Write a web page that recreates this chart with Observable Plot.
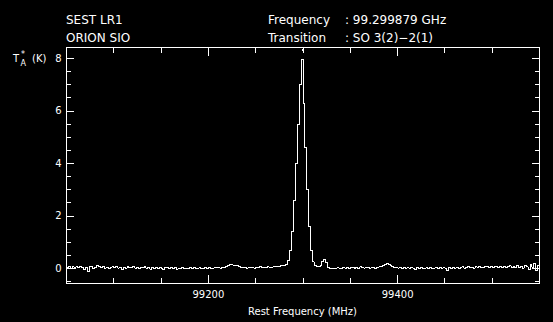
<!DOCTYPE html>
<html>
<head>
<meta charset="utf-8">
<script src="https://cdn.jsdelivr.net/npm/d3@7"></script>
<script src="https://cdn.jsdelivr.net/npm/@observablehq/plot@0.6"></script>
<style>
  html, body { margin: 0; padding: 0; background: #000; }
  #wrap { width: 553px; height: 322px; background: #000; overflow: hidden; }
</style>
</head>
<body>
<div id="wrap"></div>
<script>
// ---- Data ----
const channelStart = 99050;   // MHz, left edge of first channel
const channelWidth = 2;       // MHz
const temps = [
  0.05, 0.08, 0.02, 0.07, 0.00, 0.06, 0.03, 0.09, 0.05, -0.02,
  0.04, -0.12, 0.06, 0.08, 0.00, 0.05, 0.10, 0.06, 0.03, 0.07,
  0.02, 0.05, 0.00, 0.03, 0.06, 0.04, 0.08, 0.02, 0.05, -0.03,
  0.04, 0.01, 0.06, 0.03, 0.05, 0.09, 0.02, 0.04, 0.00, 0.05,
  0.03, 0.06, 0.02, 0.05, -0.02, 0.04, 0.01, 0.03, 0.00, 0.04,
  0.02, -0.04, 0.03, 0.05, 0.01, 0.04, 0.00, 0.03, -0.02, 0.02,
  0.00, 0.03, -0.01, 0.02, 0.00, 0.04, 0.01, 0.03, 0.00, 0.02,
  0.03, 0.00, 0.02, 0.04, 0.01, 0.03, 0.00, 0.02, 0.04, 0.03,
  0.03, 0.02, 0.04, 0.05, 0.09, 0.13, 0.15, 0.14, 0.12, 0.13,
  0.11, 0.08, 0.05, 0.03, 0.04, 0.02, 0.05, 0.03, 0.04, 0.02,
  0.04, 0.03, 0.06, 0.03, 0.05, 0.04, 0.07, 0.05, 0.03, 0.06,
  0.06, 0.08, 0.07, 0.10, 0.12, 0.13, 0.17, 0.30, 0.70, 1.40,
  2.60, 4.00, 5.50, 7.00, 7.98, 6.30, 4.60, 3.00, 1.60, 0.70,
  0.25, 0.10, 0.06, 0.07, 0.12, 0.26, 0.36, 0.22, 0.04, 0.00,
  0.00, 0.02, 0.01, 0.03, 0.02, 0.00, 0.03, 0.02, 0.04, 0.01,
  0.03, 0.05, 0.02, 0.04, 0.01, 0.06, 0.03, 0.02, 0.05, 0.03,
  0.02, 0.05, 0.03, 0.00, 0.04, 0.06, 0.08, 0.11, 0.15, 0.18,
  0.17, 0.12, 0.07, 0.03, 0.04, 0.02, 0.03, 0.00, 0.04, 0.02,
  0.03, 0.01, 0.04, 0.02, -0.02, 0.03, 0.01, 0.04, 0.02, 0.00,
  0.03, 0.01, 0.04, -0.01, 0.02, 0.04, 0.00, 0.03, 0.01, 0.05,
  0.02, -0.06, 0.03, 0.01, 0.04, 0.02, 0.05, 0.00, 0.03, 0.06,
  0.02, 0.04, 0.07, 0.03, 0.05, 0.02, 0.06, 0.04, 0.08, 0.05,
  0.03, 0.06, 0.09, 0.05, 0.07, 0.04, 0.08, 0.06, 0.03, 0.07,
  0.05, 0.09, 0.04, 0.07, 0.10, 0.03, 0.08, 0.05, 0.11, 0.04,
  0.09, 0.02, 0.12, 0.06, -0.04, 0.14, 0.05, 0.18, -0.08, 0.10
];
const xDomain = [99050, 99550];
const yDomain = [-0.57, 8.42];
const xMinorTicks = [99050, 99100, 99150, 99250, 99300, 99350, 99450, 99500, 99550];
const xMajorTicks = [99200, 99400];
const yMajorTicks = [0, 2, 4, 6, 8];
const yMinorTicks = [-0.5, 0.5, 1, 1.5, 2.5, 3, 3.5, 4.5, 5, 5.5, 6.5, 7, 7.5];
const restFrequency = 99299.879;
const headerLeft = ["SEST LR1", "ORION SIO"];
const headerLabels = ["Frequency", "Transition"];
const headerValues = [": 99.299879 GHz", ": SO 3(2)\u22122(1)"];
const xLabel = "Rest Frequency (MHz)";

// Build table
const spectrum = temps.map((t, i) => ({f: channelStart + i * channelWidth, t}));
spectrum.push({f: channelStart + temps.length * channelWidth, t: temps[temps.length - 1]});

const white = "#fff";
const blank = () => "";
const font = "DejaVu Sans, sans-serif";
const crisp = "crispEdges";

const chart = Plot.plot({
  width: 553,
  height: 322,
  marginLeft: 66,
  marginRight: 14,
  marginTop: 47,
  marginBottom: 39,
  style: {background: "#000", color: white, fontFamily: font, fontSize: "10px"},
  x: {domain: xDomain},
  y: {domain: yDomain},
  marks: [
    Plot.frame({stroke: white, shapeRendering: crisp}),
    // bottom ticks
    Plot.axisX(xMinorTicks, {anchor: "bottom", tickSize: -5, tickFormat: blank, label: null, stroke: white, shapeRendering: crisp}),
    Plot.axisX(xMajorTicks, {anchor: "bottom", tickSize: -8, tickFormat: blank, label: null, stroke: white, shapeRendering: crisp}),
    Plot.axisX(xMajorTicks, {anchor: "bottom", tickSize: 0, tickPadding: 7, tickFormat: d => String(d), label: null, fill: white}),
    // top ticks
    Plot.axisX(xMinorTicks, {anchor: "top", tickSize: -5, tickFormat: blank, label: null, stroke: white, shapeRendering: crisp}),
    Plot.axisX(xMajorTicks, {anchor: "top", tickSize: -8, tickFormat: blank, label: null, stroke: white, shapeRendering: crisp}),
    // left ticks
    Plot.axisY(yMinorTicks, {anchor: "left", tickSize: -5, tickFormat: blank, label: null, stroke: white, shapeRendering: crisp}),
    Plot.axisY(yMajorTicks, {anchor: "left", tickSize: -8, tickFormat: blank, label: null, stroke: white, shapeRendering: crisp}),
    Plot.axisY(yMajorTicks, {anchor: "left", tickSize: 0, tickPadding: 5, tickFormat: d => String(d), label: null, fill: white}),
    // right ticks
    Plot.axisY(yMinorTicks, {anchor: "right", tickSize: -5, tickFormat: blank, label: null, stroke: white, shapeRendering: crisp}),
    Plot.axisY(yMajorTicks, {anchor: "right", tickSize: -8, tickFormat: blank, label: null, stroke: white, shapeRendering: crisp}),
    // rest frequency marker
    Plot.ruleX([restFrequency], {y1: 8.26, y2: 8.33, stroke: white, shapeRendering: crisp}),
    // spectrum
    Plot.line(spectrum, {x: "f", y: "t", curve: "step-after", stroke: white, strokeWidth: 1, shapeRendering: crisp})
  ]
});

document.getElementById("wrap").appendChild(chart);

// Header & axis titles as SVG text
const svg = d3.select(chart);
const addText = (x, y, str, size, anchor = "start") =>
  svg.append("text").attr("x", x).attr("y", y).attr("fill", white)
    .attr("font-family", font).attr("font-size", size).attr("text-anchor", anchor)
    .style("white-space", "pre").text(str);

addText(66, 24, headerLeft[0], 12);
addText(66, 42, headerLeft[1], 12);
addText(268, 24, headerLabels[0], 12);
addText(268, 42, headerLabels[1], 12);
addText(345, 24, headerValues[0], 12);
addText(345, 42, headerValues[1], 12);
addText(302.5, 315, xLabel, 10, "middle");

// y-axis title: T_A^* (K)
addText(13, 62, "T", 10);
addText(20.5, 66, "A", 8);
addText(21, 57, "*", 8);
addText(32, 62, "(K)", 10);
</script>
</body>
</html>
